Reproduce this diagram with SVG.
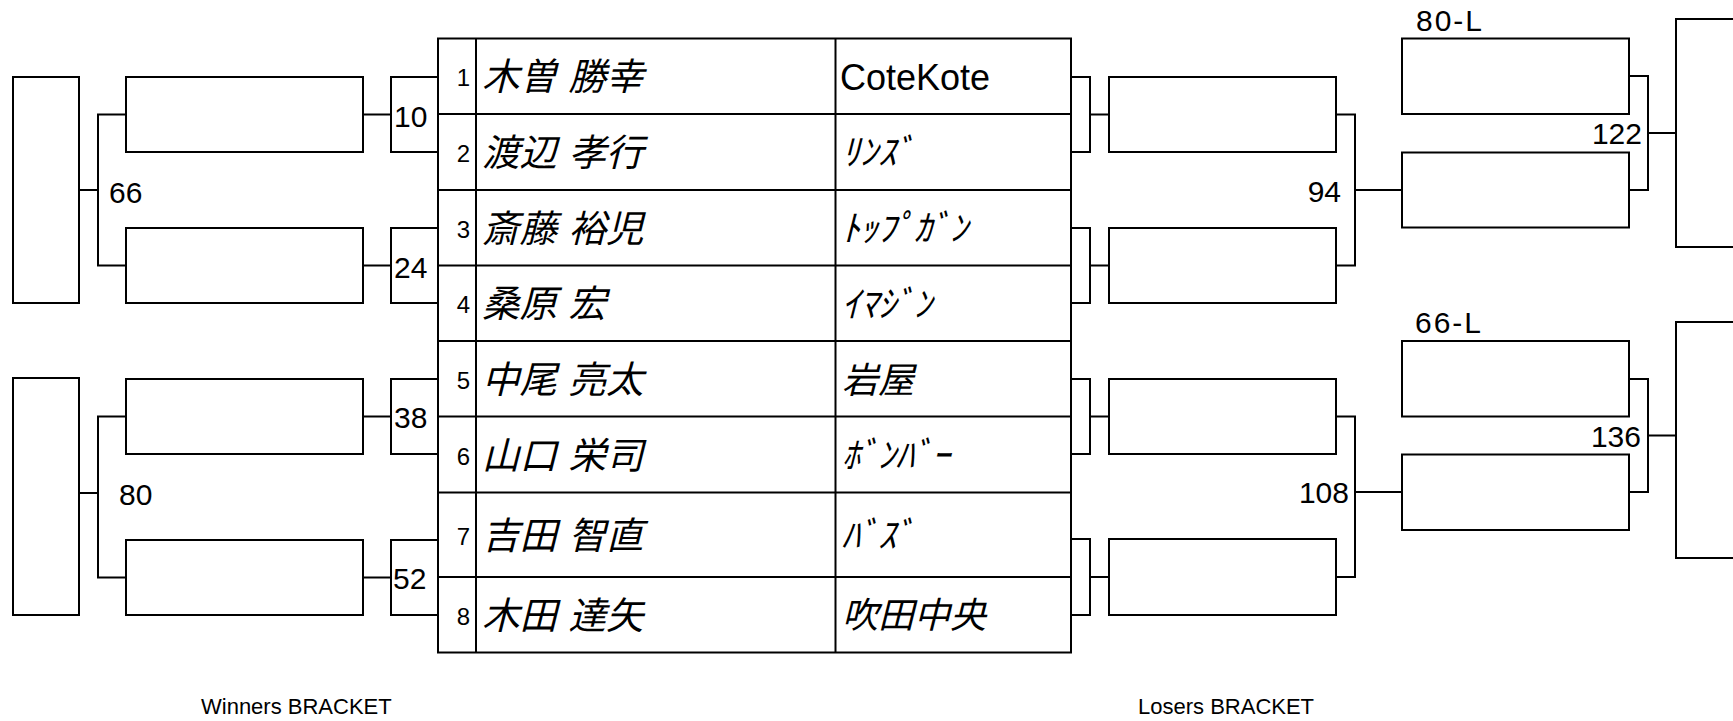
<svg xmlns="http://www.w3.org/2000/svg" width="1733" height="721" viewBox="0 0 1733 721">
<style>
.box{fill:#fff;stroke:#000;stroke-width:2}
.ln{fill:none;stroke:#000;stroke-width:2}
.num{font-family:"Liberation Sans",Arial,sans-serif;font-size:30px;fill:#000}
.seed{font-family:"Liberation Sans",Arial,sans-serif;font-size:24px;fill:#000;text-anchor:end}
.jp{font-family:"Noto Sans CJK JP","Noto Sans CJK SC",sans-serif;font-size:36px;font-style:italic;fill:#000}
.name{font-size:37.5px;word-spacing:3px}
.team{font-family:"Liberation Sans",Arial,sans-serif;font-size:36px;fill:#000}
.cap{font-family:"Liberation Sans",Arial,sans-serif;font-size:22px;fill:#000}
</style>
<rect width="1733" height="721" fill="#fff"/>

<g id="connectors">
  <path class="ln" d="M438 77H391V152H438M363 114.5H391"/>
  <path class="ln" d="M438 228H391V303H438M363 265.5H391"/>
  <path class="ln" d="M438 379H391V454H438M363 416.5H391"/>
  <path class="ln" d="M438 540H391V615H438M363 577.5H391"/>
  <path class="ln" d="M126 114.5H98V265.5H126M98 190H79"/>
  <path class="ln" d="M126 416.5H98V577.5H126M98 493H79"/>
  <path class="ln" d="M1071 77H1090V152H1071M1090 114.5H1109"/>
  <path class="ln" d="M1071 228H1090V303H1071M1090 265.5H1109"/>
  <path class="ln" d="M1071 379H1090V454H1071M1090 416.5H1109"/>
  <path class="ln" d="M1071 539H1090V615H1071M1090 577H1109"/>
  <path class="ln" d="M1336 114.5H1355V265.5H1336M1355 190H1402"/>
  <path class="ln" d="M1336 416.5H1355V577H1336M1355 492H1402"/>
  <path class="ln" d="M1629 76H1648V190H1629M1648 133H1676"/>
  <path class="ln" d="M1629 379H1648V492H1629M1648 435.5H1676"/>
</g>

<g id="winners">
  <g id="w-final-1"><rect class="box" x="13" y="77" width="66" height="226"/></g>
  <g id="w-final-2"><rect class="box" x="13" y="378" width="66" height="237"/></g>
  <g id="w-r1-1"><rect class="box" x="126" y="77" width="237" height="75"/></g>
  <g id="w-r1-2"><rect class="box" x="126" y="228" width="237" height="75"/></g>
  <g id="w-r1-3"><rect class="box" x="126" y="379" width="237" height="75"/></g>
  <g id="w-r1-4"><rect class="box" x="126" y="540" width="237" height="75"/></g>
  <g id="w-labels">
    <text class="num" x="394" y="126.5">10</text>
    <text class="num" x="394" y="278">24</text>
    <text class="num" x="394" y="428">38</text>
    <text class="num" x="393" y="588.5">52</text>
    <text class="num" x="109" y="202.5">66</text>
    <text class="num" x="119" y="505">80</text>
  </g>
</g>

<g id="table">
  <rect class="box" x="438" y="38.5" width="633" height="614"/>
  <path class="ln" d="M476 38.5V652.5M835.5 38.5V652.5M438 114H1071M438 190H1071M438 265.5H1071M438 341H1071M438 416.5H1071M438 492.5H1071M438 577H1071"/>
  <g id="row-1"><text class="seed" x="470" y="85.5">1</text><text class="jp name" x="482" y="90">木曽 勝幸</text><text class="team" x="840" y="90">CoteKote</text></g>
  <g id="row-2"><text class="seed" x="470" y="161.5">2</text><text class="jp name" x="482" y="165.5">渡辺 孝行</text><text class="jp" x="842" y="165">ﾘﾝｽﾞ</text></g>
  <g id="row-3"><text class="seed" x="470" y="237.5">3</text><text class="jp name" x="482" y="241.5">斎藤 裕児</text><text class="jp" x="842" y="241">ﾄｯﾌﾟｶﾞﾝ</text></g>
  <g id="row-4"><text class="seed" x="470" y="313">4</text><text class="jp name" x="482" y="317">桑原 宏</text><text class="jp" x="842" y="316.5">ｲﾏｼﾞﾝ</text></g>
  <g id="row-5"><text class="seed" x="470" y="389">5</text><text class="jp name" x="482" y="393">中尾 亮太</text><text class="jp" x="842" y="392.5">岩屋</text></g>
  <g id="row-6"><text class="seed" x="470" y="464.5">6</text><text class="jp name" x="482" y="468.5">山口 栄司</text><text class="jp" x="842" y="468">ﾎﾞﾝﾊﾞｰ</text></g>
  <g id="row-7"><text class="seed" x="470" y="545">7</text><text class="jp name" x="482" y="548.5">吉田 智直</text><text class="jp" x="842" y="548">ﾊﾞｽﾞ</text></g>
  <g id="row-8"><text class="seed" x="470" y="625">8</text><text class="jp name" x="482" y="628.5">木田 達矢</text><text class="jp" x="842" y="628">吹田中央</text></g>
</g>

<g id="losers">
  <g id="l-r1-1"><rect class="box" x="1109" y="77" width="227" height="75"/></g>
  <g id="l-r1-2"><rect class="box" x="1109" y="228" width="227" height="75"/></g>
  <g id="l-r1-3"><rect class="box" x="1109" y="379" width="227" height="75"/></g>
  <g id="l-r1-4"><rect class="box" x="1109" y="539" width="227" height="76"/></g>
  <g id="l-r2-1"><rect class="box" x="1402" y="38.5" width="227" height="75.5"/><text class="num" x="1416" y="30.5" letter-spacing="2">80-L</text></g>
  <g id="l-r2-2"><rect class="box" x="1402" y="152.5" width="227" height="75"/></g>
  <g id="l-r2-3"><rect class="box" x="1402" y="341" width="227" height="75.5"/><text class="num" x="1415" y="333" letter-spacing="2">66-L</text></g>
  <g id="l-r2-4"><rect class="box" x="1402" y="454.5" width="227" height="75.5"/></g>
  <g id="l-final-1"><rect class="box" x="1676" y="19" width="100" height="228"/></g>
  <g id="l-final-2"><rect class="box" x="1676" y="322" width="100" height="236"/></g>
  <g id="l-labels">
    <text class="num" x="1341" y="201.5" text-anchor="end">94</text>
    <text class="num" x="1349" y="503" text-anchor="end">108</text>
    <text class="num" x="1642" y="144" text-anchor="end">122</text>
    <text class="num" x="1641" y="446.5" text-anchor="end">136</text>
  </g>
</g>

<text class="cap" x="201" y="714">Winners BRACKET</text>
<text class="cap" x="1138" y="714">Losers BRACKET</text>
</svg>
